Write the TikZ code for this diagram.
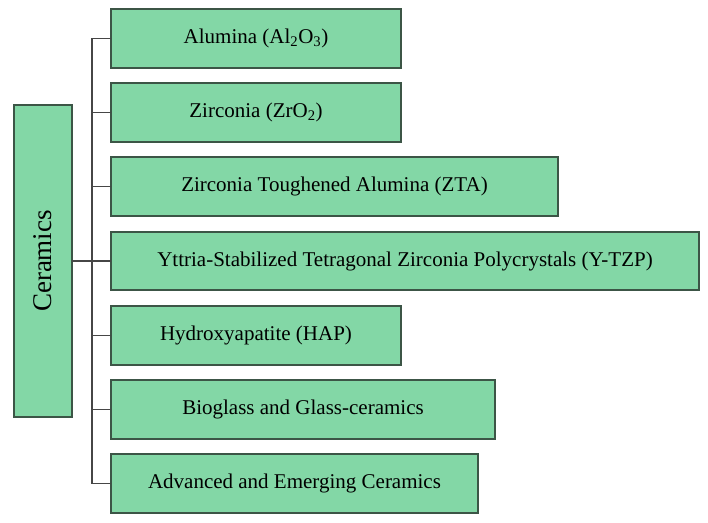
\documentclass[tikz,border=0pt]{standalone}
\usepackage{fontspec}
\setmainfont{Liberation Serif}
\definecolor{boxfill}{RGB}{131,215,166}
\definecolor{boxline}{RGB}{60,85,70}
\definecolor{conn}{RGB}{70,70,70}
\begin{document}
\begin{tikzpicture}[x=1pt,y=-1pt,
  box/.style={draw=boxline,fill=boxfill,line width=1.2pt,rectangle,inner sep=0pt,outer sep=0pt,
    anchor=north west,minimum height=59pt,font=\fontsize{21}{25}\selectfont},
  connector/.style={draw=conn,line width=1.2pt}]
\useasboundingbox (0,0) rectangle (708,522);
\node[box,anchor=center,minimum width=58pt,minimum height=312pt,font=\fontsize{27}{32}\selectfont] (cer) at (43,261) {\rotatebox{90}{Ceramics}};
\node[box,minimum width=290pt] (b1) at (111,9) {Alumina (Al\textsubscript{2}O\textsubscript{3})};
\node[box,minimum width=290pt] (b2) at (111,83) {Zirconia (ZrO\textsubscript{2})};
\node[box,minimum width=447pt] (b3) at (111,157) {Zirconia Toughened Alumina (ZTA)};
\node[box,minimum width=588pt,minimum height=58pt] (b4) at (111,232) {Yttria-Stabilized Tetragonal Zirconia Polycrystals (Y-TZP)};
\node[box,minimum width=290pt] (b5) at (111,306) {Hydroxyapatite (HAP)};
\node[box,minimum width=384pt] (b6) at (111,380) {Bioglass and Glass-ceramics};
\node[box,minimum width=367pt] (b7) at (111,454) {Advanced and Emerging Ceramics};
\draw[connector] (b1.west) -- ++(-19,0) coordinate (t1) |- (b7.west);
\foreach \b in {b2,b3,b5,b6} \draw[connector] (\b.west) -- ++(-19,0);
\draw[connector] (cer.east) -- (b4.west);
\end{tikzpicture}
\end{document}
